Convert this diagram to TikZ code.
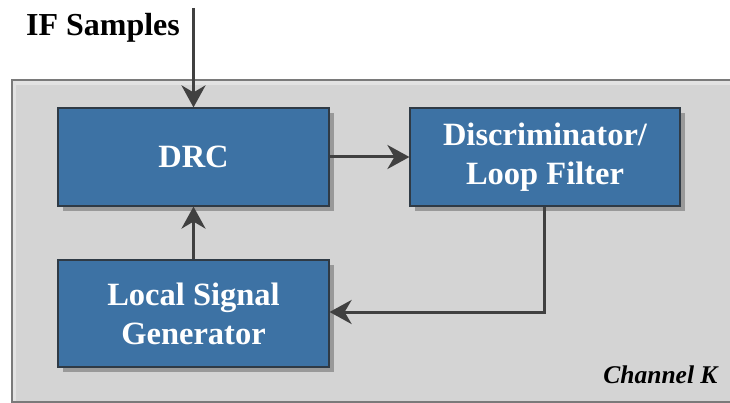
\documentclass[tikz,border=0pt]{standalone}
\usepackage{fontspec}
\setmainfont{Liberation Serif}
\usetikzlibrary{arrows.meta,shadows}
\definecolor{panelfill}{HTML}{D4D4D4}
\definecolor{panelrim}{HTML}{E2E2E2}
\definecolor{panelline}{HTML}{7A7A7A}
\definecolor{blockfill}{HTML}{3D72A4}
\definecolor{blockline}{HTML}{2F3A45}
\definecolor{wire}{HTML}{404040}
\tikzset{
  block/.style={draw=blockline, line width=1.2pt, fill=blockfill, text=white,
    font=\bfseries\fontsize{32.5}{39}\selectfont, align=center,
    minimum width=271pt, minimum height=98pt, inner sep=0pt,
    drop shadow={shadow xshift=5pt, shadow yshift=-5pt, fill=black!40, opacity=1}},
  wireline/.style={draw=wire, line width=3pt},
  flow/.style={wireline, -{Stealth[length=22pt, width=24pt, inset=7pt]}}
}
\begin{document}
\begin{tikzpicture}[x=1pt, y=-1pt]
  \useasboundingbox (0,0) rectangle (730,403);
  % channel panel with a light inner rim
  \fill[panelrim] (12,80) rectangle (735,402);
  \fill[panelfill] (16,85) rectangle (735,402);
  \draw[panelline, line width=1.2pt] (735,80) -- (12,80) -- (12,402) -- (735,402);
  % blocks
  \node[block] (drc) at (193.5,157) {DRC};
  \node[block, minimum width=270pt] (disc) at (545,157) {Discriminator/\\Loop Filter};
  \node[block, minimum height=107pt] (lsg) at (193.5,313.5) {Local Signal\\Generator};
  % labels
  \node[font=\bfseries\fontsize{32}{36}\selectfont, anchor=base] (ifs) at (103,36) {IF Samples};
  \node[font=\bfseries\itshape\fontsize{25.5}{30}\selectfont, anchor=base east] (chk) at (721,383) {Channel K};
  \coordinate (ifin) at (193.5,8);
  \coordinate (turn) at (544,312);
  % connectors
  \draw[flow] (ifin) -- (drc.north);
  \draw[flow] (drc.east) -- (disc.west);
  \draw[flow] (disc.south -| turn) -- (turn) -- (lsg.east |- turn);
  \draw[flow] (lsg.north) -- (drc.south);
\end{tikzpicture}
\end{document}
